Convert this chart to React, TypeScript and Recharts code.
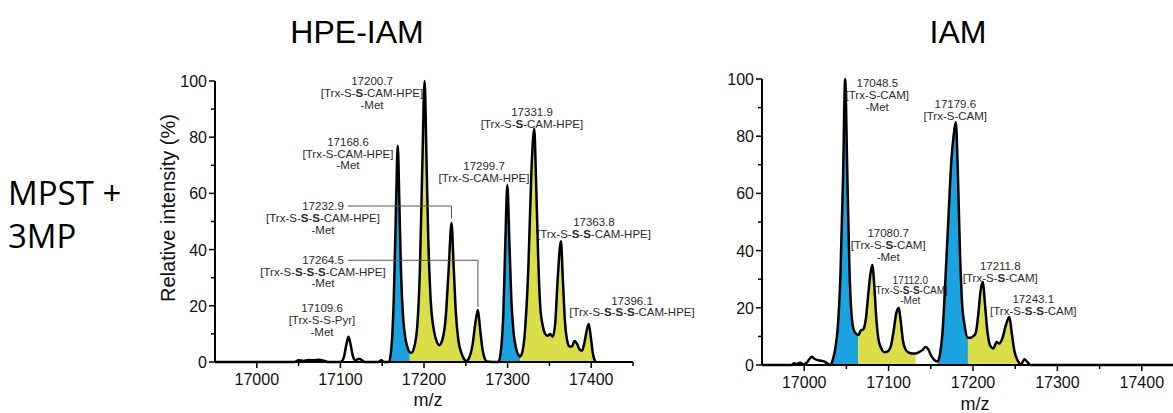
import React from 'react';
import { ComposedChart, Area, Line, XAxis, YAxis, Scatter, ReferenceLine } from 'recharts';

// ---------- HPE-IAM spectrum ----------
const hpeMz = [16950, 17045, 17050, 17056, 17062, 17068, 17074, 17080, 17085, 17100, 17104, 17107, 17109.6, 17112, 17115, 17118, 17122, 17125, 17129, 17145, 17149, 17152, 17158, 17161, 17164, 17166.5, 17168.6, 17170.5, 17172.5, 17175, 17178, 17181, 17183, 17185, 17188, 17192, 17195, 17198, 17200.7, 17203, 17205, 17208, 17212, 17215, 17218, 17222, 17226, 17229.5, 17232.9, 17235.5, 17238, 17241, 17245, 17248, 17251, 17254, 17258, 17261.5, 17264.5, 17267, 17270, 17273, 17275, 17289, 17292, 17295, 17297.5, 17299.7, 17302, 17304.5, 17307, 17310, 17313, 17315, 17318, 17321, 17325, 17328.5, 17331.9, 17334, 17336.5, 17339, 17342, 17345, 17348, 17351, 17354, 17357, 17360, 17363.8, 17366, 17368.5, 17371, 17374, 17377, 17380, 17383, 17386, 17389, 17392, 17394.5, 17397, 17399.5, 17402, 17405];
const hpeIntensity = [0, 0, 0.6, 0.4, 0.7, 0.6, 0.8, 0.5, 0, 0, 1.5, 6, 9, 6.5, 2, 0.5, 1.2, 0.8, 0, 0, 0.6, 0, 0, 5, 24, 55, 77, 57, 32, 16, 8, 4.5, 3.5, 3.3, 5, 13, 32, 70, 100, 72, 45, 22, 11, 7.5, 6, 8, 16, 33, 49.5, 34, 18, 8, 3, 1, 0.4, 1.5, 6, 14, 18.5, 12, 4.5, 1, 0.2, 0, 4, 18, 45, 63, 44, 22, 11, 5, 2.5, 2, 4, 12, 35, 68, 83, 65, 38, 20, 13, 10, 9.3, 10, 9, 14, 30, 43, 30, 15, 8, 5.5, 5.5, 7.5, 6.5, 4.5, 4, 7, 11, 13.5, 9, 3, 0];
const hpeBlueRanges: [number, number][] = [[17158, 17183], [17289, 17315]];
const hpeYellowRanges: [number, number][] = [[17183, 17275], [17315, 17405]];

// ---------- IAM spectrum ----------
const iamMz = [16950, 16985, 16988, 16991, 16995, 16999, 17003, 17006, 17009, 17012, 17016, 17020, 17024, 17028, 17031, 17034, 17037, 17040, 17043, 17046, 17048.5, 17051, 17053.5, 17056, 17059, 17062, 17064, 17067, 17070, 17073, 17076, 17078.5, 17080.7, 17083, 17085.5, 17088, 17091, 17095, 17099, 17103, 17106, 17109, 17112, 17114.5, 17117, 17120, 17124, 17128, 17132, 17136, 17140, 17144, 17147, 17150, 17154, 17158, 17161, 17164, 17167, 17171, 17174.5, 17177, 17179.6, 17182, 17184.5, 17187, 17190, 17194, 17197, 17200, 17203, 17206, 17209, 17211.8, 17214, 17217, 17220, 17224, 17228, 17231, 17235, 17239, 17243.1, 17246, 17249, 17253, 17257, 17261, 17264, 17268, 17450];
const iamIntensity = [0, 0, 0.6, 0.3, 0.8, 0.2, 0.8, 2, 2.9, 2.2, 1.7, 1.5, 1.2, 0.4, 0, 2, 6, 14, 32, 65, 100, 68, 35, 18, 12, 10.8, 10.5, 12, 12.5, 16, 25, 32, 35, 28, 16, 9, 6, 4.5, 4.8, 7, 12, 18, 20, 15, 8.5, 5.5, 4.3, 4, 4, 4.5, 5.2, 6.3, 5.5, 3.5, 1.8, 1.2, 4, 12, 28, 52, 72, 80, 85, 68, 40, 22, 14, 9.5, 9.5, 10, 11, 17, 26, 29, 22, 12, 7, 5.8, 8, 7.5, 9.5, 14, 16.8, 11, 5, 1.5, 0.3, 2, 1.2, 0, 0];
const iamBlueRanges: [number, number][] = [[17031, 17064], [17158, 17194]];
const iamYellowRanges: [number, number][] = [[17064, 17132], [17194, 17257]];

// ---------- axes ----------
const mzDomain: [number, number] = [16950, 17450];
const xTicks = [17000, 17050, 17100, 17150, 17200, 17250, 17300, 17350, 17400, 17450];
const yTicks = [0, 10, 20, 30, 40, 50, 60, 70, 80, 90, 100];

// ---------- peak annotations (anchored in data units: m/z, intensity) ----------
const hpeLabels = [
  { mz: 17137.8, y: 100, lines: ['17200.7', '[Trx-S-*S*-CAM-HPE]', '-Met'] },
  { mz: 17109.1, y: 78.4, lines: ['17168.6', '[Trx-S-CAM-HPE]', '-Met'] },
  { mz: 17079.2, y: 55.6, lines: ['17232.9', '[Trx-S-*S*-*S*-CAM-HPE]', '-Met'] },
  { mz: 17079.2, y: 36.4, lines: ['17264.5', '[Trx-S-*S*-*S*-*S*-CAM-HPE]', '-Met'] },
  { mz: 17078, y: 19.1, lines: ['17109.6', '[Trx-S-S-Pyr]', '-Met'] },
  { mz: 17329.2, y: 89.0, lines: ['17331.9', '[Trx-S-*S*-CAM-HPE]'] },
  { mz: 17271.8, y: 69.7, lines: ['17299.7', '[Trx-S-CAM-HPE]'] },
  { mz: 17403.3, y: 49.7, lines: ['17363.8', '[Trx-S-*S*-*S*-CAM-HPE]'] },
  { mz: 17448.8, y: 21.9, lines: ['17396.1', '[Trx-S-*S*-*S*-*S*-CAM-HPE]'] },
];
const hpeConnectors = [
  [{ x: 17109, y: 55.5 }, { x: 17232.9, y: 55.5 }],
  [{ x: 17232.9, y: 55.5 }, { x: 17232.9, y: 51 }],
  [{ x: 17109, y: 36.2 }, { x: 17264.5, y: 36.2 }],
  [{ x: 17264.5, y: 36.2 }, { x: 17264.5, y: 19.5 }],
];
const iamLabels = [
  { mz: 17086.6, y: 98.6, lines: ['17048.5', '[Trx-S-CAM]', '-Met'] },
  { mz: 17179.0, y: 91.3, lines: ['17179.6', '[Trx-S-CAM]'] },
  { mz: 17099.5, y: 46.2, lines: ['17080.7', '[Trx-S-*S*-CAM]', '-Met'] },
  { mz: 17125.7, y: 29.7, lines: ['17112.0', '[Trx-S-*S*-*S*-CAM]', '-Met'], small: true },
  { mz: 17232.3, y: 34.6, lines: ['17211.8', '[Trx-S-*S*-CAM]'] },
  { mz: 17271.4, y: 23.1, lines: ['17243.1', '[Trx-S-*S*-*S*-CAM]'] },
];

const BLUE = '#1ba3df';
const YELLOW = '#dade49';
const SANS = '"Liberation Sans", Arial, Helvetica, sans-serif';

function inRanges(m: number, ranges: [number, number][]) {
  return ranges.some(([a, b]) => m >= a && m <= b);
}
function buildRows(mz: number[], inten: number[], blue: [number, number][], yellow: [number, number][]) {
  return mz.map((m, i) => ({
    mz: m,
    v: inten[i],
    blue: inRanges(m, blue) ? inten[i] : null,
    yellow: inRanges(m, yellow) ? inten[i] : null,
  }));
}
const hpeRows = buildRows(hpeMz, hpeIntensity, hpeBlueRanges, hpeYellowRanges);
const iamRows = buildRows(iamMz, iamIntensity, iamBlueRanges, iamYellowRanges);

function renderRich(s: string) {
  return s.split('*').map((part, i) =>
    i % 2 === 1 ? (
      <tspan key={i} fontWeight="bold">{part}</tspan>
    ) : (
      <tspan key={i}>{part}</tspan>
    )
  );
}

const Annot = (props: any) => {
  const { cx, cy, payload } = props;
  if (cx == null || cy == null) return null;
  const fs = payload.small ? 10 : 11.5;
  const lh = payload.small ? 10 : 11.8;
  return (
    <text x={cx} y={cy} textAnchor="middle" fontSize={fs} fontFamily={SANS} fill="#2b2b2b">
      {payload.lines.map((ln: string, i: number) => (
        <tspan key={i} x={cx} dy={i === 0 ? fs * 0.36 : lh}>
          {renderRich(ln)}
        </tspan>
      ))}
    </text>
  );
};

const XTick = (props: any) => {
  const { x, y, payload } = props;
  const major = payload.value % 100 === 0;
  return (
    <g>
      <line x1={x} x2={x} y1={y} y2={y + (major ? 6 : 4)} stroke="#000" strokeWidth={1.5} />
      {major && (
        <text x={x} y={y + 23} textAnchor="middle" fontSize={16} fontFamily={SANS} fill="#111">
          {payload.value}
        </text>
      )}
    </g>
  );
};

const YTick = (props: any) => {
  const { x, y, payload } = props;
  const major = payload.value % 20 === 0;
  return (
    <g>
      <line x1={x} x2={x - (major ? 6 : 4)} y1={y} y2={y} stroke="#000" strokeWidth={1.5} />
      {major && (
        <text x={x - 8} y={y + 6} textAnchor="end" fontSize={16} fontFamily={SANS} fill="#111">
          {payload.value}
        </text>
      )}
    </g>
  );
};

function Spectrum(props: {
  rows: any[];
  labels: any[];
  connectors?: { x: number; y: number }[][];
  width: number;
  height: number;
  margin: { top: number; right: number; bottom: number; left: number };
}) {
  const { rows, labels, connectors = [], width, height, margin } = props;
  return (
    <ComposedChart width={width} height={height} data={rows} margin={margin}>
      <XAxis
        dataKey="mz"
        type="number"
        domain={mzDomain}
        ticks={xTicks}
        interval={0}
        tickSize={0}
        tickMargin={0}
        tickLine={false}
        tick={<XTick />}
        axisLine={{ stroke: '#000', strokeWidth: 2 }}
        height={30}
      />
      <YAxis
        type="number"
        domain={[0, 100]}
        ticks={yTicks}
        interval={0}
        tickSize={0}
        tickMargin={0}
        tickLine={false}
        tick={<YTick />}
        axisLine={{ stroke: '#000', strokeWidth: 2 }}
        width={60}
      />
      <Area type="monotone" dataKey="blue" stroke="none" fill={BLUE} fillOpacity={1} connectNulls={false} isAnimationActive={false} dot={false} activeDot={false} />
      <Area type="monotone" dataKey="yellow" stroke="none" fill={YELLOW} fillOpacity={1} connectNulls={false} isAnimationActive={false} dot={false} activeDot={false} />
      <Line type="monotone" dataKey="v" stroke="#000" strokeWidth={2.5} dot={false} activeDot={false} isAnimationActive={false} />
      {connectors.map((seg, i) => (
        <ReferenceLine key={i} segment={seg} stroke="#555" strokeWidth={1} ifOverflow="visible" />
      ))}
      <Scatter data={labels} dataKey="y" shape={(p: any) => <Annot {...p} />} isAnimationActive={false} />
    </ComposedChart>
  );
}

export default function App() {
  return (
    <div style={{ position: 'absolute', left: 0, top: 0, width: 1173, height: 413, overflow: 'hidden', background: '#fff' }}>
      <div style={{ position: 'absolute', left: 0, top: 0 }}>
        <Spectrum
          rows={hpeRows}
          labels={hpeLabels}
          connectors={hpeConnectors}
          width={720}
          height={413}
          margin={{ top: 81, right: 87, bottom: 21, left: 155 }}
        />
      </div>
      <div style={{ position: 'absolute', left: 600, top: 0 }}>
        <Spectrum
          rows={iamRows}
          labels={iamLabels}
          width={600}
          height={413}
          margin={{ top: 79, right: 16, bottom: 18, left: 102 }}
        />
      </div>
      <svg width={1173} height={413} style={{ position: 'absolute', left: 0, top: 0, pointerEvents: 'none' }}>
        <text x={357} y={43} textAnchor="middle" fontSize={32} fontFamily={SANS} fill="#000">HPE-IAM</text>
        <text x={958} y={43} textAnchor="middle" fontSize={32} fontFamily={SANS} fill="#000">IAM</text>
        <text x={8} y={205} fontSize={33} fontFamily='"Open Sans", sans-serif' fill="#000">MPST +</text>
        <text x={8} y={248} fontSize={33} fontFamily='"Open Sans", sans-serif' fill="#000">3MP</text>
        <text transform="translate(175,208) rotate(-90)" textAnchor="middle" fontSize={20} fontFamily={SANS} fill="#111">Relative intensity (%)</text>
        <text x={428} y={406} textAnchor="middle" fontSize={18} fontFamily={SANS} fill="#111">m/z</text>
        <text x={975} y={410} textAnchor="middle" fontSize={18} fontFamily={SANS} fill="#111">m/z</text>
      </svg>
    </div>
  );
}
